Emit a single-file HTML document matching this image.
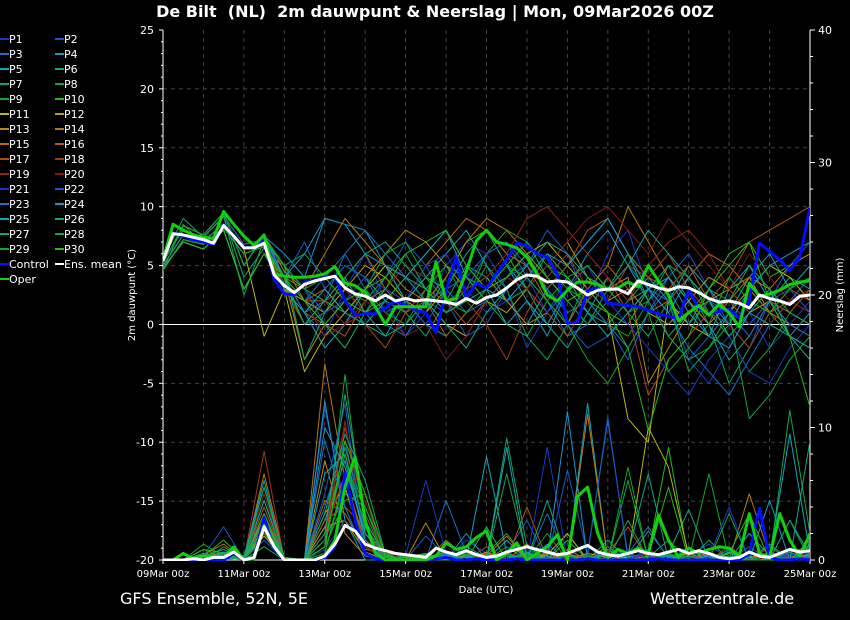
<!DOCTYPE html>
<html><head><meta charset="utf-8"><style>
html,body{margin:0;padding:0;background:#000;}
svg{display:block;font-family:"DejaVu Sans","Liberation Sans",sans-serif;}
</style></head><body>
<svg id="chart" width="850" height="620" viewBox="0 0 850 620">
<rect width="850" height="620" fill="#000"/>
<text x="435" y="17" fill="#fff" font-size="16" font-weight="bold" text-anchor="middle" style="white-space:pre" xml:space="preserve">De Bilt  (NL)  2m dauwpunt &amp; Neerslag | Mon, 09Mar2026 00Z</text>
<text x="120" y="604" fill="#fff" font-size="16">GFS Ensemble, 52N, 5E</text>
<text x="650" y="604" fill="#fff" font-size="16">Wetterzentrale.de</text>
<text x="486" y="593" fill="#fff" font-size="10" text-anchor="middle">Date (UTC)</text>
<text transform="translate(135,295) rotate(-90)" fill="#fff" font-size="10" text-anchor="middle">2m dauwpunt (°C)</text>
<text transform="translate(843,295) rotate(-90)" fill="#fff" font-size="10" text-anchor="middle">Neerslag (mm)</text>
<defs><clipPath id="pc"><rect x="163" y="30" width="647" height="531"/></clipPath></defs>
<g id="grid"></g>
<g id="axes"></g>
<g id="series" clip-path="url(#pc)"></g>
<g id="legend"></g>
</svg>
<script>
const xLabels=["09Mar 00z","11Mar 00z","13Mar 00z","15Mar 00z","17Mar 00z","19Mar 00z","21Mar 00z","23Mar 00z","25Mar 00z"];
const yTicks=[25,20,15,10,5,0,-5,-10,-15,-20];
const y2Ticks=[0,10,20,30,40];
const meanT=[5.4,7.7,7.6,7.4,7.2,6.9,8.4,7.5,6.5,6.5,6.9,4.2,3.3,2.7,3.4,3.7,3.9,4.1,3.1,2.6,2.4,2.0,2.5,2.0,2.2,2.0,2.1,2.0,1.9,1.7,2.2,1.8,2.3,2.5,3.1,3.8,4.2,4.1,3.6,3.7,3.6,3.1,2.5,2.9,3.0,3.0,2.6,3.7,3.4,3.1,2.9,3.2,3.1,2.7,2.2,1.9,2.0,1.8,1.4,2.5,2.2,2.0,1.7,2.4,2.5];
const controlT=[5.4,7.8,7.5,7.2,7.0,6.8,8.5,7.5,6.5,6.6,7.2,3.8,2.6,2.5,3.6,3.8,4.0,4.1,2.0,0.8,0.9,0.9,1.4,2.0,1.6,1.2,1.0,-0.7,2.9,5.7,2.3,3.5,3.1,4.3,5.5,6.9,6.7,6.0,5.7,4.3,0.1,0.2,2.9,3.1,1.8,1.7,1.6,1.5,1.2,0.9,0.7,0.5,2.9,1.4,0.9,1.1,1.3,0.6,2.0,6.9,6.2,5.5,4.6,5.7,9.9];
const operT=[5.5,8.5,8.0,7.6,7.4,7.3,9.6,8.5,7.5,6.7,7.6,4.3,4.1,4.0,4.0,4.1,4.3,4.9,3.5,3.3,2.7,1.5,0.0,1.5,1.5,1.5,1.5,5.3,2.0,2.2,4.5,7.1,8.0,7.0,6.8,6.5,5.7,4.3,2.5,2.0,2.9,3.6,3.6,3.4,2.9,3.1,3.6,3.2,5.0,3.7,2.5,0.3,1.0,1.6,0.8,1.7,1.0,-0.2,3.5,2.4,2.6,2.9,3.4,3.6,3.7];
const meanP=[0,0,0,0.1,0,0.2,0.2,0.6,0,0.2,2.5,1.0,0,0,0,0,0.3,1.2,2.6,2.2,1.2,0.9,0.7,0.5,0.4,0.3,0.2,0.9,0.6,0.4,0.7,0.4,0.2,0.3,0.6,0.8,1.0,0.8,0.6,0.4,0.5,0.8,1.1,0.6,0.4,0.3,0.5,0.7,0.5,0.4,0.6,0.8,0.5,0.7,0.5,0.2,0.1,0.2,0.6,0.3,0.2,0.5,0.8,0.6,0.7];
const operP=[0,0,0.5,0.1,0.3,0.2,0.2,1.0,0,0.1,2.6,1.0,0,0,0,0,0.3,1.5,5.5,7.8,3.0,0.5,0,0,0,0,0,0.3,1.3,0.8,1.0,1.7,2.2,0,0.5,1.3,0,0.5,1.0,1.9,0,4.8,5.5,2.0,0.2,0.8,0.5,0.9,0.5,3.4,1.5,0.2,0.9,0.5,0.8,1.0,0.9,0.3,3.5,0.5,0.2,3.5,1.5,0.3,2.0];
const controlP=[0,0,0,0,0.1,0,0,0.5,0,0.1,3.2,0.8,0,0,0,0,0.2,1.0,6.6,3.0,0.5,0.1,0,0,0,0,0,0.1,0.2,0,0,0.1,0,0,0,0.1,0,0,0,0,0,0,0.1,0,0,0,0,0,0,0.1,0,0,0,0,0,0,0,0,0.5,3.9,0.2,0,0,0.1,0];
const memberT=[
[5,7.6,7.0,8.6,6.4,6.8,4,1,-1,3,6,2,-1,1,5,7,6,3,-2,1,4,2,6,8,3,-1,-3,-5,-2,1,-2,0,2],
[5.5,8,7.4,9.2,6.8,7.2,5,3,0,-2,1,4,7,5,2,-1,0,3,5,8,6,2,0,-3,1,4,6,3,0,-2,2,5,7],
[4.6,7.2,6.8,8.2,6.0,6.6,3,2,4,6,3,0,-1,2,1,3,6,7,4,2,-1,0,2,5,3,1,-2,-4,-6,-3,0,2,4],
[5.2,8.4,7.6,9.5,5.0,7.5,6,4,9,8.5,8,5,2,0,-1,1,3,5,2,-1,3,6,8,5,2,4,1,-1,3,5,2,-1,1],
[4.8,7.0,6.4,8.0,3.0,6.0,4,1,-2,0,3,5,2,4,6,8,5,2,0,3,5,7,9,6,4,2,5,3,1,4,6,3,5],
[5,7.6,7.0,8.6,6.4,6.8,5,3,1,2,0,-1,2,4,3,6,8,5,3,0,-2,1,4,2,3,5,2,0,-3,-1,2,4,3],
[5.5,9,7.4,9.2,4,6.5,4,2,3,5,4,2,1,-1,2,5,4,2,3,6,4,1,0,2,4,6,3,0,-5,-2,1,3,2],
[4.6,8.5,6.8,8.2,6.0,6.6,3.5,0,1,3,2,4,6,3,1,2,5,3,-1,-3,0,4,3,1,-1,2,-4,-2,0,3,1,-1,-2],
[5.2,8.4,7.6,9.5,5.0,7.5,5,6,4,2,3,1,0,3,5,2,6,8,7,5,3,2,0,-1,2,5,4,1,-1,-4,-2,1,3],
[4.8,7.0,6.4,8.0,3.0,6.0,4,3,2,1,3,4,2,1,4,7,8,6,3,5,4,2,1,0,3,2,0,3,6,7,4,5,6],
[5,7.6,7.0,8.6,6.4,-1,3,-4,-1,1,3,5,4,2,0,-1,2,4,6,7,5,3,1,-8,-10,2,0,-1,1,3,5,4,2],
[5.5,8,7.4,9.2,6.8,7.2,3,2,1,3,5,4,2,1,3,4,2,1,3,5,7,4,2,3,1,0,2,4,3,1,2,1,0],
[4.6,7.2,6.8,8.2,6.0,6.6,4,-3,0,2,4,6,8,7,5,3,4,2,0,1,3,5,3,4,-5,-2,1,2,3,4,1,0,-1],
[5.2,8.4,7.6,9.5,5.0,7.5,4.5,3,6,9,7,5,3,2,4,7,9,8,6,4,2,3,5,10,7,4,2,0,2,4,3,5,6],
[4.8,7.0,6.4,8.0,3.0,6.0,5,2,2,4,6,3,2,5,7,9,8,6,5,2,0,3,5,3,1,2,4,6,5,3,1,2,3],
[5,7.6,7.0,8.6,6.4,6.8,4,1,0,-1,2,3,1,2,-1,1,3,4,6,3,5,8,9,6,4,3,5,2,4,7,8,9,10],
[5.5,8,7.4,9.2,6.8,7.2,4,2,3,1,0,-2,1,3,2,0,2,4,3,1,-1,2,4,1,-6,-3,-1,1,2,0,2,1,3],
[4.6,7.2,6.8,8.2,6.0,6.6,3,0,2,3,1,2,4,3,1,2,0,-3,1,4,6,3,2,5,4,6,3,1,0,-2,1,3,2],
[5.2,8.4,7.6,9.5,5.0,7.5,3,1,2,0,1,3,5,4,2,3,4,6,9,10,8,6,4,2,5,7,8,6,3,1,0,2,1],
[4.8,7.0,6.4,8.0,3.0,6.0,4,2,-1,0,2,1,-1,0,-3,-1,2,4,3,5,7,9,10,8,6,9,7,5,3,6,4,2,3],
[5,7.6,7.0,8.6,6.4,6.8,5,3,1,2,4,3,2,5,6,3,1,2,4,1,3,5,2,0,-2,-4,-6,-3,-1,-4,-5,-2,0],
[5.5,8,7.4,9.2,6.8,7.2,4,7,3,5,4,1,2,0,3,4,6,7,5,3,0,-2,-1,1,3,2,-3,-1,1,0,2,3,1],
[4.6,7.2,6.8,8.2,6.0,6.6,4,1,2,6,8,6,4,2,3,1,2,4,5,3,1,2,0,-2,1,3,0,2,1,-1,2,0,-1],
[5.2,8.4,7.6,9.5,5.0,7.5,4,6,9,8.5,6,5,4,6,8,4,3,2,4,6,5,7,9,6,3,1,4,2,0,3,5,6,7],
[4.8,7.0,6.4,8.0,3.0,6.0,3,1,3,1,0,2,4,6,8,5,3,0,2,0,3,1,-1,1,3,4,2,-1,-2,1,3,-1,-2],
[5,7.6,7.0,8.6,6.4,6.8,4,0,2,4,1,-1,0,2,0,-2,1,3,5,7,6,4,3,5,8,6,4,2,-1,1,0,-1,-3],
[5.5,8,7.4,9.2,2.5,7.2,5,-3,1,4,6,7,5,3,1,2,3,5,7,4,2,0,3,6,2,-1,1,3,2,5,3,1,0],
[4.6,7.2,6.8,8.2,6.0,6.6,4,2,0,-2,1,2,4,3,5,4,2,0,-1,2,4,5,3,1,2,-1,-3,-2,1,-8,-6,-3,-1],
[5.2,8.4,7.6,9.5,5.0,7.5,5,3,4,2,3,6,7,4,2,1,3,5,4,2,0,-3,-5,-2,1,-4,-2,0,4,2,1,3,4],
[4.8,7.0,6.4,8.0,3.0,6.0,4,2,0,2,1,3,6,7,8,5,3,4,6,4,2,3,1,-2,-9,-3,-1,3,5,7,2,-1,-7]];
const memberP=[
[0,0,0.3,0.8,0,2.0,0,0,2.5,6.0,1.0,0,0.2,0.5,0,1.5,0.5,0,0.8,0,0.3,1.0,0,0.2,0.5,0,0.3,1.2,0,0.5,0,0.2,0.4],
[0,0,0,0.5,0.2,1.5,0,0,11.5,4.0,0.5,0,0,1.8,0.3,0,0,0.5,3.0,0,6.8,0.4,0,0,0.8,0,0.2,0.5,0,1.0,0,0.3,0],
[0,0,0.2,0.3,0,3.5,0,0,4.0,9.0,2.0,0.3,0,0,4.5,0.5,0,0.3,0,1.2,0,0.5,10.5,0.3,0,0.5,0,0,1.0,0,0.2,0,0.3],
[0,0,0,0.6,0,4.5,0.2,0,12.0,3.0,0,0,0.4,0,0,2.0,0,1.5,0,0,0.3,0,0.5,0,2.2,0.2,0,0.4,0,0,0,0.6,0],
[0,0,0.4,0.2,0.3,5.5,0,0,3.0,7.5,1.5,0,0,0,0.5,0,7.8,0.5,0,0.6,0,11.8,0,0.3,0,0,0.8,0,0,2.0,0.3,9.5,0.5],
[0,0,0,1.0,0,3.0,0,0,1.5,5.0,4.0,0.5,0,0.3,0,1.0,0.2,0,0.4,0,2.0,0,1.5,0,0.3,0.5,3.8,0,0.5,0,1.2,0,0.8],
[0,0,0.5,0.3,0,1.0,0,0,2.0,8.5,3.5,0,0,0.2,0.6,0,0,9.2,1.0,0,0.3,0,0.2,0.5,0,0,0,1.5,0,0.3,0,3.0,0],
[0,0,0.2,0.5,0,2.5,0,0,1.0,14.0,2.0,0.4,0,0,0.3,0,0.5,2.0,0,0.6,0,0.3,0,6.0,0,0.5,0,0,3.5,0,0,11.3,2.0],
[0,0,0.8,0.2,0,1.5,0,0,0.5,6.0,1.0,0.2,0,0.4,0,0.5,0,1.0,0,0,0.8,0,0,0,0.2,1.5,0,6.5,0,0,0.4,0,1.0],
[0,0,0.3,1.5,0,4.0,0,0,1.0,4.5,5.0,0,0.3,0,0.3,0,2.5,0,0.5,0,0.4,0.2,1.0,0,0.5,8.5,0,0.3,0,0.6,0,0,0.3],
[0,0,0,0.4,0.2,2.0,0,0,3.5,5.5,0.5,0,0,0,0.2,0,0,0.5,0,0.4,2.0,0,0,0.2,10.0,7.0,0.3,0,0.5,0,0,0.8,0],
[0,0,0.2,0.6,0,1.8,0,0,2.5,3.0,0.6,0,0.2,0.5,0,0.3,0,0,1.2,0,0,0.5,0.2,0,0.3,0,0.5,0,0,0.2,0.4,0,0.5],
[0,0,0,0.3,0,3.2,0,0,7.5,2.0,0.3,0,0,2.8,0,0,0.6,0,0.3,0,0.5,0,0.4,0,0,0,0,0.6,0,0.2,0,0,0.3],
[0,0,0.4,1.2,0,6.5,0.2,0,14.8,6.0,1.5,0.3,0,0,0.5,0,0.3,1.8,0,0.5,0,11.0,0,0,0.6,0,0.2,0.4,0,5.0,0.3,0,1.5],
[0,0,0,0.5,0.3,2.2,0,0,4.5,3.5,0.8,0.5,0.3,0,0.2,0,0.5,0,0,0,0.8,0,0.5,0,0.3,0,0,0.2,0,0.5,0,0,0.4],
[0,0,0.3,0.2,0,2.8,0,0,3.0,4.0,2.5,0,0.2,0,1.5,0.2,0,0,4.0,0,0,0.3,0,0,0.2,0.5,0,0,0.3,0,1.0,0,0.5],
[0,0,0.2,0.5,0,4.0,0,0,2.0,6.5,1.0,0,0,0.5,0,0,1.0,0,0.2,0.8,0,0,0.5,2.5,0,0,0.3,0,0,0,0.6,0,0.2],
[0,0,0.3,0.8,0,8.2,0,0,1.5,10.0,3.5,0,0.2,0.3,0,0.5,0,0,0.3,0,0,0.4,0,0,0.5,0.3,0,0,1.0,0,0,0.3,0],
[0,0,0,0.6,0,5.0,0,0,2.0,10.5,1.0,0,0.5,0,0.3,0,0,0.6,0,0,0,0.3,0,0,0.2,0,0.4,0,0,0,0.2,0,0.3],
[0,0,0.2,0.3,0.2,3.5,0,0,1.0,8.0,4.5,0.3,0,0,0.2,0,0.3,0,0.5,0,0.2,0,0,0.4,0,0,0.2,0,0.5,0,0,0,0.6],
[0,0,0,0.5,0,1.5,0,0,0.8,3.0,1.5,0,0.3,6.0,0.5,0,0.2,0,0,8.5,0,0.3,0,0,0.6,0,0,0.2,4.0,0,0,0.5,0],
[0,0,0.3,2.5,0,2.0,0,0,5.0,11.8,0.5,0,0,0.4,0,0.6,0,0,0.5,0,0,0.3,10.8,0,0.3,0,1.0,0,0,0.6,0,0.4,0],
[0,0,0.2,0.4,0,3.5,0,0,9.0,4.0,0.3,0,0.3,0,0.5,0,0,0.4,0,3.5,0,0.2,0,0.5,2.5,0,0,0,0.3,0,0.5,0,0.2],
[0,0,0,0.6,0.2,6.0,0,0,10.0,7.0,2.0,0,0,0,0.3,0.3,0,0,0.6,0,11.2,0,0.5,0,0,0.4,0,0.3,0,0,4.5,0,0.3],
[0,0,0.3,0.2,0,2.5,0,0,6.5,8.0,1.5,0,0.2,0,0.4,0,0,8.5,0,0.3,0,0,0.8,0,0,0.3,0,0,0.6,0,0,0,0.5],
[0,0,0,0.5,0,4.5,0,0,2.0,12.5,3.0,0.2,0,0.3,0,0.2,0,0.5,0,4.5,0,0.3,0,0.5,6.5,0,0.3,0,0,0.5,0,0,9.0],
[0,0,0.4,0.3,0,3.0,0,0,3.5,9.5,6.0,0.4,0,0.5,0,0,0.4,0,0.5,0,0,0,0.5,0,0,0,0.3,0,0.8,0,0,3.0,0.4],
[0,0,0.3,0.8,0,5.5,0.2,0,1.5,8.0,2.5,0.3,0,0,0.6,0.4,0,6.5,0.3,0,0.4,0,0,3.0,0,0.4,0,0,0.3,0,0,0.6,1.0],
[0,0,1.2,0.3,0,2.0,0,0,0.5,6.5,4.0,0,0.3,0,0.2,0,0,0.3,0,2.0,0,0.3,0,7.0,0,0.5,0,0,0.5,0,0.3,0,0.8],
[0,0,0.8,0.5,0,3.5,0,0,1.0,9.0,5.0,0.3,0,0.4,0,0.4,0.3,0,0.5,0,1.5,0,0.4,0,0.3,5.5,0,0,0.5,3.5,0,0,1.2]];
const baseColors=["#1838c8","#1858c8","#1870c0","#1898c8","#10a8b8","#10a888","#10a868","#10a848","#10a828","#28b818","#b8b810","#b8a010","#b88810","#b87810","#b86810","#b05810","#b04818","#a03818","#902818","#801818"];

const NS="http://www.w3.org/2000/svg";
const X0=163,X1=810,Y0=30,Y1=560;
function xAt(hours){return X0+hours/384*(X1-X0);}
function yT(v){return Y0+(25-v)*(Y1-Y0)/45;}
function yP(p){return Y1-p*(Y1-Y0)/40;}
function mk(tag,attrs,parent){const e=document.createElementNS(NS,tag);for(const k in attrs)e.setAttribute(k,attrs[k]);parent.appendChild(e);return e;}
const grid=document.getElementById('grid'),axes=document.getElementById('axes'),series=document.getElementById('series'),legend=document.getElementById('legend');

for(let d=1;d<16;d++){const x=xAt(d*24);const l=mk('line',{x1:x,x2:x,y1:Y0,y2:Y1,stroke:'#444','stroke-dasharray':'4,4'},grid);

}
yTicks.forEach(v=>{const y=yT(v);
if(v<25&&v>-20&&v!==0){const l=mk('line',{x1:X0,x2:X1,y1:y,y2:y,stroke:'#444','stroke-dasharray':'4,4'},grid);

}
mk('line',{x1:X0-4,x2:X0,y1:y,y2:y,stroke:'#fff'},axes);
const t=mk('text',{x:X0-9,y:y+4,fill:'#fff','font-size':11,'text-anchor':'end'},axes);t.textContent=v;

});
for(let v=-20;v<=25;v++){if(v%5)mk('line',{x1:X0-2,x2:X0,y1:yT(v),y2:yT(v),stroke:'#fff'},axes);}
y2Ticks.forEach(v=>{const y=yP(v);mk('line',{x1:X1,x2:X1+5,y1:y,y2:y,stroke:'#fff'},axes);
const t=mk('text',{x:X1+8,y:y+4,fill:'#fff','font-size':11},axes);t.textContent=v;

});
for(let v=2;v<40;v+=2){if(v%10)mk('line',{x1:X1,x2:X1+3,y1:yP(v),y2:yP(v),stroke:'#fff'},axes);}
xLabels.forEach((s,i)=>{const x=xAt(i*48);mk('line',{x1:x,x2:x,y1:Y1,y2:Y1+4,stroke:'#fff'},axes);
const t=mk('text',{x:x,y:577,fill:'#fff','font-size':10,'text-anchor':'middle'},axes);t.textContent=s;

});
mk('line',{x1:X0,x2:X1,y1:yT(0),y2:yT(0),stroke:'#fff','stroke-width':1},axes);
mk('line',{x1:X0,x2:X0,y1:Y0,y2:Y1,stroke:'#fff'},axes);
mk('line',{x1:X1,x2:X1,y1:Y0,y2:Y1,stroke:'#fff'},axes);
mk('line',{x1:X0,x2:X1,y1:Y1,y2:Y1,stroke:'#fff'},axes);

function line(vals,step,yf,color,w,name){
const pts=vals.map((v,i)=>xAt(i*step).toFixed(1)+','+yf(v).toFixed(1)).join(' ');
const p=mk('polyline',{points:pts,fill:'none',stroke:color,'stroke-width':w,'stroke-linejoin':'round'},series);

}
memberP.forEach((a,k)=>line(a,12,yP,baseColors[k%20],1,'precip-p'+(k+1)));
memberT.forEach((a,k)=>line(a,12,yT,baseColors[k%20],1,'dewpoint-p'+(k+1)));
line(controlP,6,yP,'#0010ff',3,'precip-control');
line(controlT,6,yT,'#0010ff',3,'dewpoint-control');
line(operP,6,yP,'#10d010',3,'precip-oper');
line(operT,6,yT,'#10d010',3,'dewpoint-oper');
line(meanP,6,yP,'#ffffff',3,'precip-ens-mean');
line(meanT,6,yT,'#ffffff',3,'dewpoint-ens-mean');

const legNames=[];for(let i=1;i<=30;i++)legNames.push('P'+i);legNames.push('Control','Ens. mean','Oper');
const legColors=legNames.map((n,i)=>i<30?baseColors[i%20]:(n==='Control'?'#0010ff':n==='Oper'?'#10d010':'#ffffff'));
legNames.forEach((n,i)=>{const col=i%2,row=Math.floor(i/2);const x=col?55:0,y=39+row*15;
mk('line',{x1:x,x2:x+9,y1:y,y2:y,stroke:legColors[i],'stroke-width':2},legend);
const t=mk('text',{x:x+9,y:y+4,fill:'#fff','font-size':11},legend);t.textContent=n;

});
</script>
</body></html>
